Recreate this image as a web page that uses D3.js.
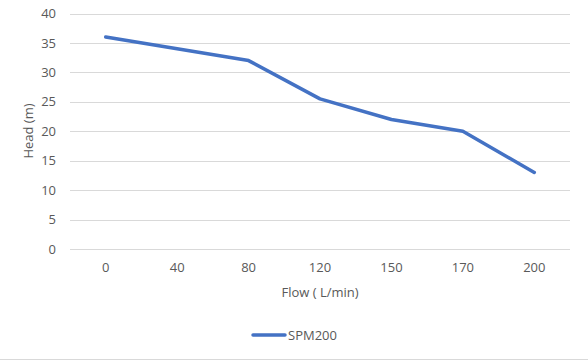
<!DOCTYPE html>
<html><head><meta charset="utf-8">
<script src="https://cdn.jsdelivr.net/npm/d3@7"></script>
<style>body{margin:0;background:#fff}svg{display:block}text{font-family:"Open Sans","Liberation Sans",sans-serif;}</style>
</head><body>
<svg id="c" width="588" height="360"></svg>
<script>
const categories = ["0","40","80","120","150","170","200"];
const headValues = [36, 34, 32, 25.5, 22, 20, 13];
const yTicks = [0,5,10,15,20,25,30,35,40];
const seriesName = "SPM200";

const svg = d3.select("#c");
const W = 588, H = 360;
const m = {left:70, right:18, top:13.5, bottom:111};
const x = d3.scaleBand().domain(categories).range([m.left, W - m.right]);
const y = d3.scaleLinear().domain([0,40]).range([H - m.bottom, m.top]);

svg.append("rect").attr("width",W).attr("height",H).attr("fill","#fff");
svg.append("line").attr("x1",0).attr("x2",W).attr("y1",359.5).attr("y2",359.5).attr("stroke","#d9d9d9");

const g = svg.append("g");
g.selectAll("line.grid").data(yTicks).join("line")
  .attr("x1",m.left).attr("x2",W-m.right)
  .attr("y1",d=>Math.round(y(d))+0.5).attr("y2",d=>Math.round(y(d))+0.5)
  .attr("stroke","#d9d9d9").attr("stroke-width",1);

const yAxis = d3.axisLeft(y).tickValues(yTicks).tickSize(0).tickPadding(0);
svg.append("g").attr("transform",`translate(${m.left-14},0)`).call(yAxis)
  .call(s=>s.select(".domain").remove())
  .selectAll("text").attr("fill","#595959").style("font-size","13px");

const xAxis = d3.axisBottom(x).tickSize(0).tickPadding(0);
svg.append("g").attr("transform",`translate(0,${H-m.bottom+14})`).call(xAxis)
  .call(s=>s.select(".domain").remove())
  .selectAll("text").attr("fill","#595959").style("font-size","13px");

const line = d3.line().x((d,i)=>x(categories[i])+x.bandwidth()/2).y(d=>y(d));
svg.append("path").datum(headValues).attr("d",line)
  .attr("fill","none").attr("stroke","#4472C4").attr("stroke-width",3.5)
  .attr("stroke-linejoin","round").attr("stroke-linecap","round");

svg.append("text").attr("transform","translate(33,131) rotate(-90)")
  .attr("text-anchor","middle").attr("fill","#595959").style("font-size","13px").text("Head (m)");
svg.append("text").attr("x",320).attr("y",297).attr("text-anchor","middle")
  .attr("fill","#595959").style("font-size","13px").text("Flow ( L/min)");

svg.append("line").attr("x1",253).attr("x2",285).attr("y1",335).attr("y2",335)
  .attr("stroke","#4472C4").attr("stroke-width",3.5).attr("stroke-linecap","round");
svg.append("text").attr("x",288).attr("y",339.5).attr("fill","#595959").style("font-size","13px").text(seriesName);
</script>
</body></html>
